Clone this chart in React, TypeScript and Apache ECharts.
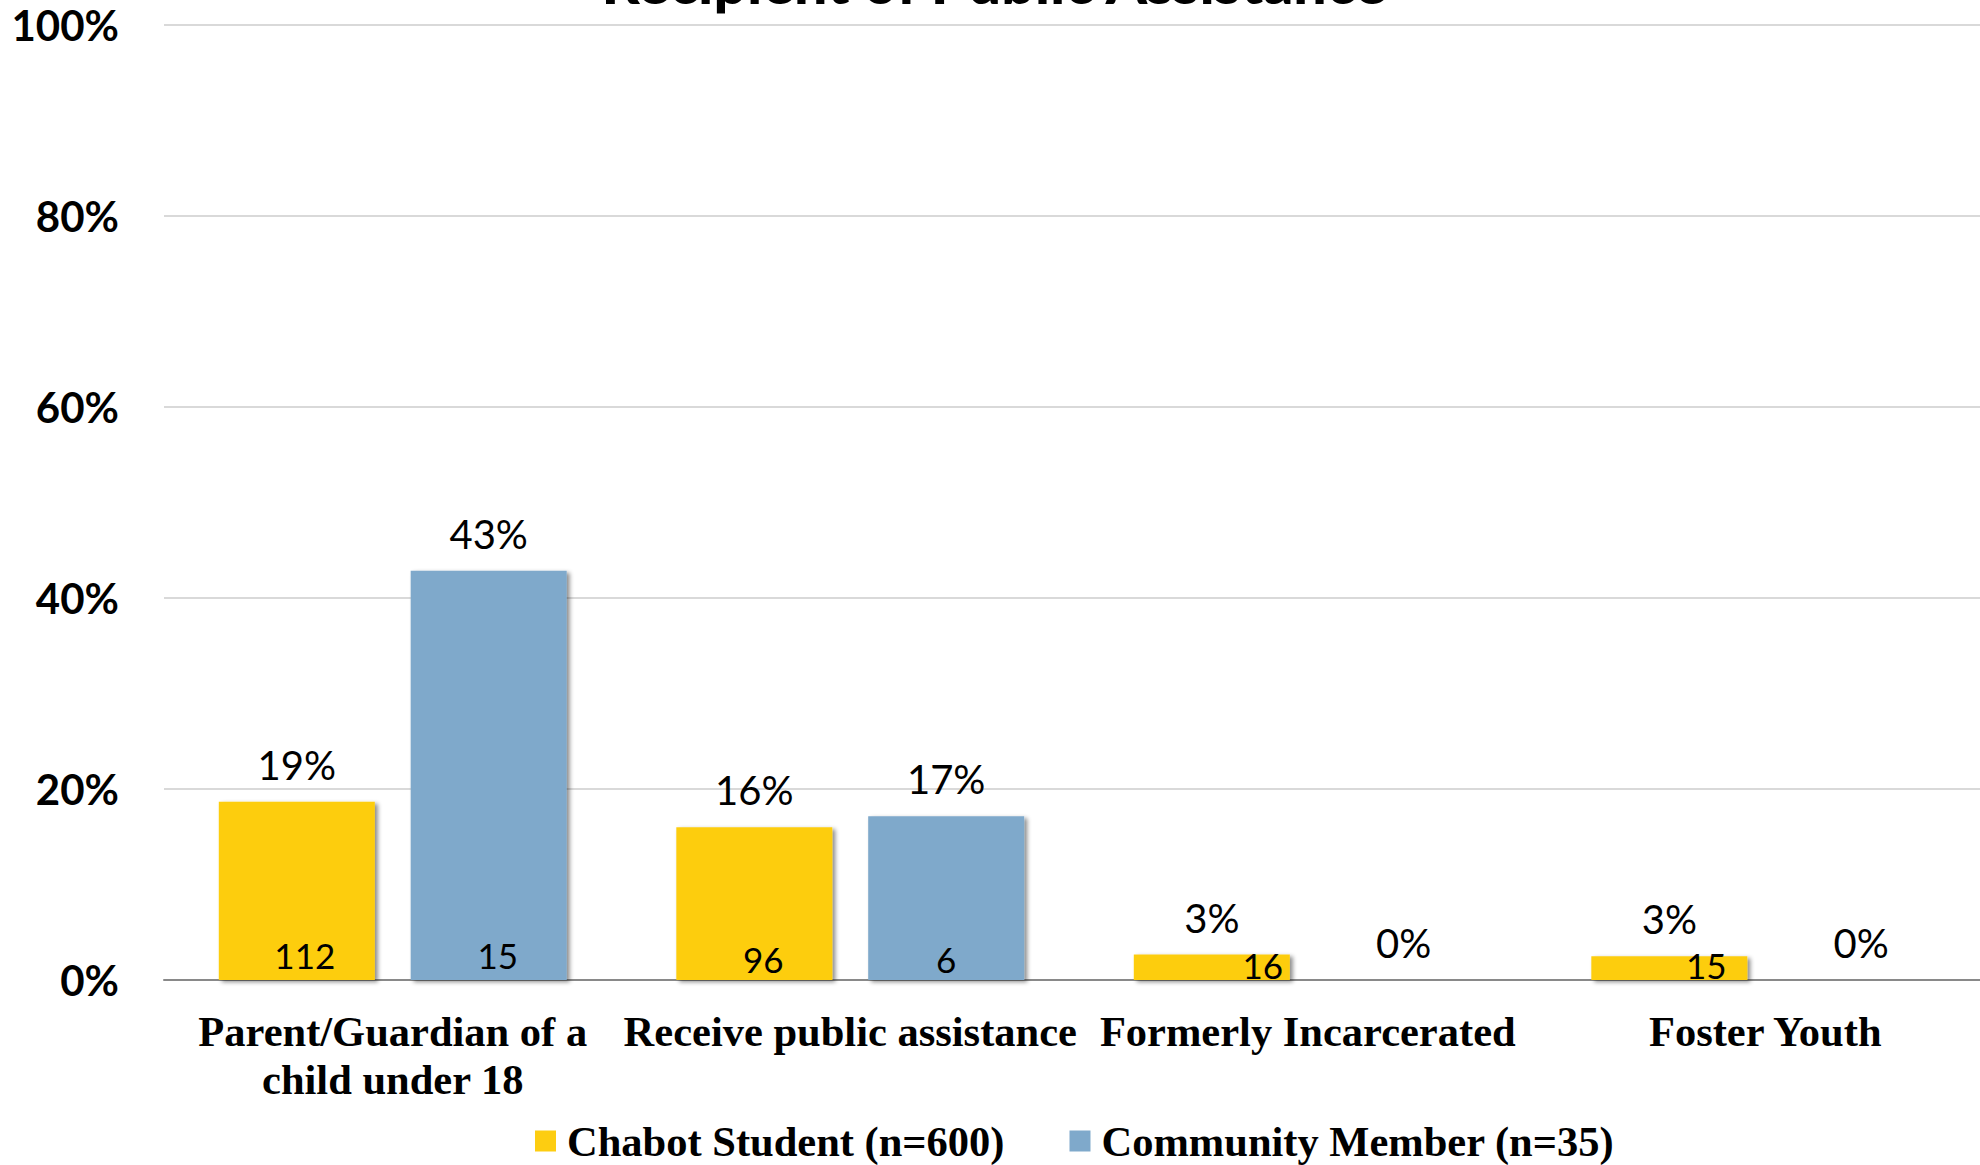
import React, { useEffect, useRef } from "react";
import * as echarts from "echarts";

const categories = [
  "Parent/Guardian of a\nchild under 18",
  "Receive public assistance",
  "Formerly Incarcerated",
  "Foster Youth",
];
const seriesNames = ["Chabot Student (n=600)", "Community Member (n=35)"];
const chabotPct = [18.67, 16.0, 2.67, 2.5];
const communityPct = [42.86, 17.14, 0, 0];
const chabotCounts = [112, 96, 16, 15];
const communityCounts = [15, 6, 0, 0];
const yTicks = { min: 0, max: 100, interval: 20 };
const titleText = "Recipient of Public Assistance";

// label layout (not data)
const chabotCountOffsets = [[8, 0], [9, 4], [51, 10], [37, 10]];
const communityCountOffsets = [[9, 0], [0, 4], [0, 10], [0, 10]];

const YELLOW = "#FDCD11";
const BLUE = "#7FA9CB";
const SANS = "Lato";
const SERIF = "Liberation Serif";

export default function App() {
  const ref = useRef<HTMLDivElement>(null);
  useEffect(() => {
    if (!ref.current) return;
    document.documentElement.style.overflow = "hidden";
    document.body.style.overflow = "hidden";
    const chart = echarts.init(ref.current, null, { renderer: "svg" });
    const barCommon = {
      type: "bar",
      barWidth: 156,
      barGap: "23%",
    };
    const shadow = {
      shadowColor: "rgba(0,0,0,0.45)",
      shadowBlur: 4,
      shadowOffsetX: 3,
      shadowOffsetY: 2,
    };
    const topLabel = {
      show: true,
      position: "top",
      distance: 17,
      fontFamily: SANS,
      fontSize: 40,
      color: "#000",
      formatter: (p: any) => Math.round(p.value) + "%",
    };
    const countData = (vals: number[], counts: number[], offs: number[][]) =>
      vals.map((v, i) => ({
        value: v,
        label: {
          show: counts[i] > 0,
          offset: offs[i],
          formatter: String(counts[i]),
        },
      }));
    const countLabel = {
      show: true,
      position: "insideBottom",
      distance: 8,
      fontFamily: SANS,
      fontSize: 35,
      color: "#000",
    };
    chart.setOption({
      animation: false,
      backgroundColor: "#fff",
      graphic: [
        {
          type: "text",
          x: 994,
          y: -19,
          style: {
            text: titleText,
            fontFamily: SANS,
            fontWeight: 900,
            fontSize: 59,
            fill: "#000",
            align: "center",
            verticalAlign: "middle",
          },
        },
      ],
      legend: {
        data: seriesNames,
        left: 535,
        top: 1117,
        padding: 0,
        icon: "rect",
        itemWidth: 21,
        itemHeight: 21,
        itemGap: 65,
        textStyle: {
          fontFamily: SERIF,
          fontWeight: "bold",
          fontSize: 42.5,
          lineHeight: 48,
          color: "#000",
          padding: [0, 0, 0, 6],
        },
      },
      grid: { left: 164, top: 25, width: 1830, height: 955 },
      xAxis: [
        {
          type: "category",
          data: categories,
          axisTick: { show: false },
          axisLine: { lineStyle: { color: "#898989", width: 2 } },
          axisLabel: {
            interval: 0,
            margin: 27,
            fontFamily: SERIF,
            fontWeight: "bold",
            fontSize: 42.5,
            lineHeight: 48,
            color: "#000",
          },
        },
        { type: "category", data: categories, show: false },
      ],
      yAxis: {
        type: "value",
        min: yTicks.min,
        max: yTicks.max,
        interval: yTicks.interval,
        axisLine: { show: false },
        axisTick: { show: false },
        splitLine: { lineStyle: { color: "#D9D9D9", width: 2 } },
        axisLabel: {
          formatter: "{value}%",
          margin: 45,
          fontFamily: SANS,
          fontWeight: "bold",
          fontSize: 42,
          color: "#000",
        },
      },
      series: [
        {
          ...barCommon,
          name: seriesNames[0],
          data: chabotPct,
          itemStyle: { color: YELLOW, ...shadow },
          label: topLabel,
        },
        {
          ...barCommon,
          name: seriesNames[1],
          data: communityPct,
          itemStyle: { color: BLUE, ...shadow },
          label: topLabel,
        },
        {
          ...barCommon,
          name: "chabotCounts",
          xAxisIndex: 1,
          silent: true,
          data: countData(chabotPct, chabotCounts, chabotCountOffsets),
          itemStyle: { color: "rgba(0,0,0,0)" },
          label: countLabel,
          z: 5,
        },
        {
          ...barCommon,
          name: "communityCounts",
          xAxisIndex: 1,
          silent: true,
          data: countData(communityPct, communityCounts, communityCountOffsets),
          itemStyle: { color: "rgba(0,0,0,0)" },
          label: countLabel,
          z: 5,
        },
      ],
    });
    return () => chart.dispose();
  }, []);
  return (
    <div
      ref={ref}
      style={{ position: "fixed", left: 0, top: 0, width: 2010, height: 1165 }}
    />
  );
}
